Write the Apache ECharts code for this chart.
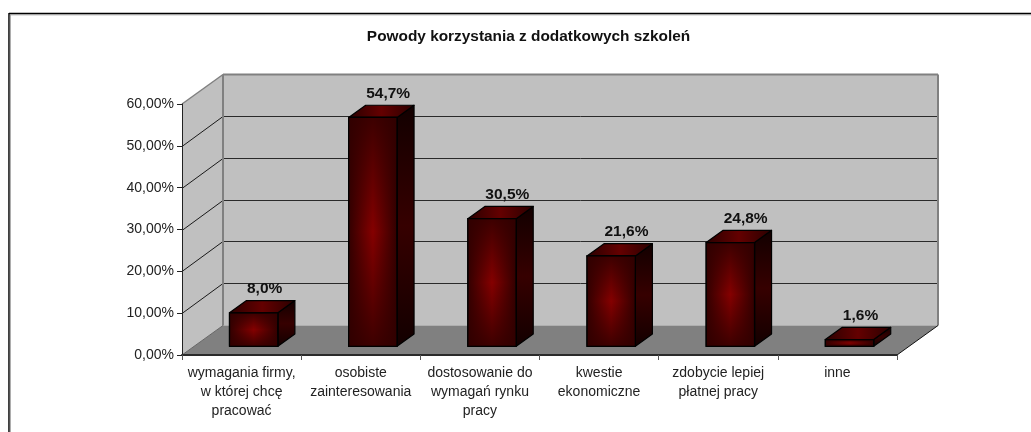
<!DOCTYPE html>
<html>
<head>
<meta charset="utf-8">
<style>html,body{margin:0;padding:0;background:#fff}#c{width:1031px;height:432px}</style>
<script src="https://cdn.jsdelivr.net/npm/echarts@6/dist/echarts.min.js"></script>
</head>
<body>
<div id="c"></div>
<script>
var chartTitle = 'Powody korzystania z dodatkowych szkoleń';
var categories = ['wymagania firmy,\nw której chcę\npracować','osobiste\nzainteresowania','dostosowanie do\nwymagań rynku\npracy','kwestie\nekonomiczne','zdobycie lepiej\npłatnej pracy','inne'];
var values = [8.0,54.7,30.5,21.6,24.8,1.6];
var valueLabels = ['8,0%','54,7%','30,5%','21,6%','24,8%','1,6%'];
var yTicks = [0,10,20,30,40,50,60];

var DX = 41, DY = -29.5;       // full depth of the 3D box
var F1 = 0.295, F2 = 0.71;     // bar front/back position along the depth
var FONT = '"Liberation Sans", Arial, sans-serif';

function poly(pts, fill, stroke, lw, z){
  return {type:'polygon', shape:{points:pts}, z2:z||0,
    style:{fill:fill, stroke:stroke||null, lineWidth:lw||0, lineJoin:'round'}};
}
function line(a,b,stroke,lw,z){
  return {type:'line', shape:{x1:a[0],y1:a[1],x2:b[0],y2:b[1]}, z2:z||0,
    style:{stroke:stroke, lineWidth:lw}};
}
function lin(x0,y0,x1,y1,stops){
  return new echarts.graphic.LinearGradient(x0,y0,x1,y1,stops.map(function(s){return {offset:s[0],color:s[1]};}));
}

function renderScene(params, api){
  var n = categories.length;
  var half = api.size([1,0])[0]/2;
  var l0 = api.coord([0,0]); l0 = [l0[0]-half, l0[1]];
  var r0 = api.coord([n-1,0]); r0 = [r0[0]+half, r0[1]];
  var topY = api.coord([0,60])[1];
  var lt = [l0[0], topY];
  var b = function(p){return [p[0]+DX, p[1]+DY];};
  var rt = [r0[0], topY];
  var kids = [
    poly([b(l0),b(r0),b(rt),b(lt)], '#c0c0c0'),
    poly([l0,b(l0),b(lt),lt], '#c0c0c0'),
    poly([l0,r0,b(r0),b(l0)], '#808080')
  ];
  yTicks.forEach(function(t){
    if(t===0||t===60) return;
    var y = Math.round(api.coord([0,t])[1]) + 0.5;
    var p = [l0[0], y];
    var q = b(p);
    var bkY = Math.floor(q[1]-0.5) + 0.5;
    kids.push(line(p,[q[0],bkY],'#1a1a1a',1));
    kids.push(line([q[0],bkY],[r0[0]+DX,bkY],'#2a2a2a',1));
  });
  kids.push(line(lt,b(lt),'#808080',1.5));
  kids.push(line(b(lt),b(rt),'#808080',2));
  kids.push(line(b(lt),b(l0),'#808080',2));
  kids.push(line(b(rt),b(r0),'#808080',2));
  kids.push(line(l0,b(l0),'#666',1));
  kids.push(line(r0,b(r0),'#111',1));
  return {type:'group', children:kids};
}

function renderBar(params, api){
  var i = api.value(0), v = api.value(1);
  var c0 = api.coord([i,0]), c1 = api.coord([i,v]);
  var hw = api.size([1,0])[0]*0.203;
  var ox = DX*F1, oy = DY*F1, tx = DX*(F2-F1), ty = DY*(F2-F1);
  var x0 = c0[0]-hw+ox, x1 = c0[0]+hw+ox, yb = c0[1]+oy, yt = c1[1]+oy;
  var edge = '#000000';
  var frontBase = lin(0,0,1,0,[[0,'#300000'],[0.5,'#850000'],[1,'#300000']]);
  var frontOver = lin(0,0,0,1,[[0,'rgba(48,0,0,0.85)'],[0.5,'rgba(48,0,0,0)'],[1,'rgba(48,0,0,0.85)']]);
  var sideFill = lin(0,0,0,1,[[0,'#120000'],[0.5,'#360000'],[1,'#120000']]);
  var topFill = lin(0,0,1,0,[[0,'#2a0000'],[0.5,'#640000'],[1,'#2a0000']]);
  var front = [[x0,yt],[x1,yt],[x1,yb],[x0,yb]];
  var side = [[x1,yt],[x1+tx,yt+ty],[x1+tx,yb+ty],[x1,yb]];
  var top = [[x0,yt],[x0+tx,yt+ty],[x1+tx,yt+ty],[x1,yt]];
  return {type:'group', children:[
    poly(side, sideFill, edge, 1.2),
    poly(top, topFill, edge, 1.2),
    poly(front, frontBase, edge, 1.2),
    poly(front, frontOver, null, 0, 1),
    {type:'polygon', shape:{points:front}, z2:2, style:{fill:'none', stroke:edge, lineWidth:1.2}},
    {type:'text', z2:3, style:{text:valueLabels[i], x:x0+tx+0.5, y:yt+ty-4,
      align:'left', verticalAlign:'bottom', fill:'#111',
      font:'bold 15.5px '+FONT}}
  ]};
}

var chart = echarts.init(document.getElementById('c'), null, {renderer:'canvas'});
chart.setOption({
  animation:false,
  backgroundColor:'#ffffff',
  title:{text:chartTitle, left:523.5, top:24, textAlign:'center',
    textStyle:{fontFamily:FONT, fontWeight:'bold', fontSize:15.4, color:'#111'}},
  grid:{left:182, right:134, top:104, bottom:77},
  xAxis:{type:'category', data:categories, z:5,
    axisLine:{lineStyle:{color:'#2a2a2a', width:2}},
    axisTick:{show:true, alignWithLabel:false, length:5, lineStyle:{color:'#555', width:1}},
    axisLabel:{interval:0, color:'#222', fontFamily:FONT, fontSize:14, lineHeight:19.3, margin:8},
    splitLine:{show:false}},
  yAxis:{type:'value', min:0, max:60, interval:10, z:5,
    axisLine:{show:true, lineStyle:{color:'#222', width:1}},
    axisTick:{show:true, length:5, lineStyle:{color:'#222', width:1}},
    axisLabel:{color:'#222', fontFamily:FONT, fontSize:14, margin:8,
      formatter:function(v){return v.toFixed(2).replace('.',',')+'%';}},
    splitLine:{show:false}},
  graphic:[
    {type:'line', shape:{x1:9,y1:13.5,x2:1031,y2:13.5}, style:{stroke:'#000',lineWidth:1.5}},
    {type:'line', shape:{x1:9,y1:14.8,x2:1031,y2:14.8}, style:{stroke:'#999',lineWidth:1}},
    {type:'line', shape:{x1:9,y1:13,x2:9,y2:432}, style:{stroke:'#000',lineWidth:1.5}},
    {type:'line', shape:{x1:10.3,y1:14,x2:10.3,y2:432}, style:{stroke:'#999',lineWidth:1}}
  ],
  series:[
    {type:'custom', z:1, silent:true, clip:false, renderItem:renderScene, data:[[0,0]], encode:{x:0,y:1}},
    {type:'custom', z:3, silent:true, clip:false, renderItem:renderBar,
      data:values.map(function(v,i){return [i,v];}), encode:{x:0,y:1}}
  ]
});
</script>
</body>
</html>
